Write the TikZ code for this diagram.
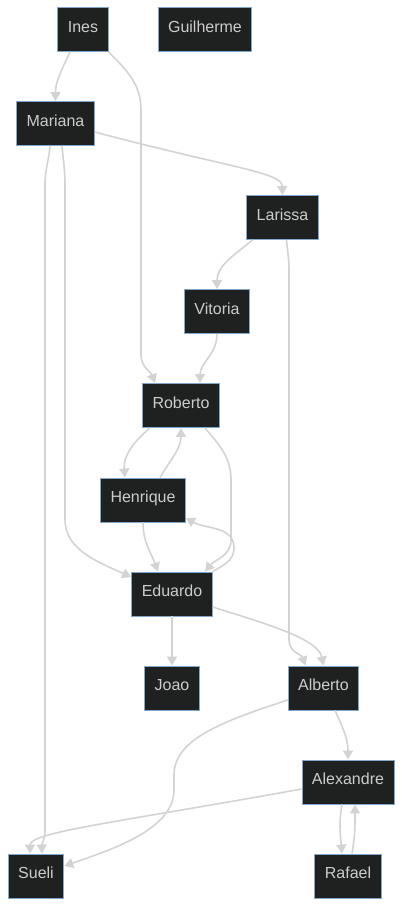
\documentclass[tikz,border=0pt]{standalone}
\usepackage{fontspec}
\setmainfont{Liberation Sans}
\usetikzlibrary{arrows.meta}
\definecolor{boxfill}{HTML}{1F2121}
\definecolor{boxline}{HTML}{81A7CC}
\definecolor{boxtext}{HTML}{CCCCCC}
\definecolor{linkgray}{HTML}{D3D3D3}
\begin{document}
\begin{tikzpicture}[x=1pt, y=1pt,
        person/.style={draw=boxline, line width=0.9pt, fill=boxfill, text=boxtext, inner xsep=10pt, minimum height=44pt, text height=11.5pt, text depth=5.9pt, font=\fontsize{16}{19}\selectfont},
        link/.style={draw=linkgray, line width=1.6pt, -{Triangle[length=9pt, width=10pt]}}]
        \useasboundingbox (0,0) rectangle (402,-906);
        \node (ines) at (83,-29.5) [person] {Ines};
        \node (guilherme) at (205,-29.5) [person] {Guilherme};
        \node (mariana) at (55.5,-123.5) [person] {Mariana};
        \node (larissa) at (282.5,-217.5) [person] {Larissa};
        \node (vitoria) at (217,-311.5) [person] {Vitoria};
        \node (roberto) at (181,-405.5) [person] {Roberto};
        \node (henrique) at (143,-500) [person] {Henrique};
        \node (eduardo) at (172,-594) [person] {Eduardo};
        \node (joao) at (172,-688) [person] {Joao};
        \node (alberto) at (323.5,-688) [person] {Alberto};
        \node (alexandre) at (348,-782) [person] {Alexandre};
        \node (sueli) at (36,-876) [person] {Sueli};
        \node (rafael) at (348,-876) [person] {Rafael};

        \draw [link] ([xshift=-13pt]ines.south) to[out=-115, in=90] (mariana.north);
        \draw [link] (ines.south east) to[out=-45, in=90] (141,-110) -- (141,-355) to[out=-90, in=110] ([xshift=-26pt]roberto.north);
        \draw [link] ([yshift=-8.5pt]mariana.east) .. controls (230,-168) and (282,-172) .. (larissa.north);
        \draw [link] ([xshift=-5.5pt]mariana.south) to[out=-95, in=90] (45,-185) -- (45,-830) to[out=-90, in=92] ([xshift=6pt]sueli.north);
        \draw [link] ([xshift=6.5pt]mariana.south) to[out=-85, in=90] (65,-185) -- (65,-520) .. controls (65,-550) and (100,-563) .. ([yshift=17pt]eduardo.west);
        \draw [link] ([xshift=-30pt]larissa.south) to[out=-140, in=90] (vitoria.north);
        \draw [link] ([xshift=4pt]larissa.south) to[out=-85, in=90] (289,-270) -- (289,-640) to[out=-90, in=110] ([xshift=-18pt]alberto.north);
        \draw [link] (vitoria.south) to[out=-90, in=90] ([xshift=19pt]roberto.north);
        \draw [link] ([xshift=-31pt]roberto.south) to[out=-140, in=95] ([xshift=-18pt]henrique.north);
        \draw [link] ([xshift=17pt]henrique.north) to[out=60, in=-90] (roberto.south);
        \draw [link] ([xshift=24pt]roberto.south) to[out=-50, in=90] (231,-480) -- (231,-540) to[out=-90, in=50] ([xshift=33pt]eduardo.north);
        \draw [link] (henrique.south) to[out=-90, in=110] ([xshift=-14pt]eduardo.north);
        \draw [link] (eduardo.north east) to[out=30, in=-90] (234,-548) to[out=90, in=-30] ([yshift=-18pt]henrique.east);
        \draw [link] (eduardo.south) -- (joao.north);
        \draw [link] ([yshift=-13pt]eduardo.east) .. controls (260,-622) and (318,-638) .. (alberto.north);
        \draw [link] ([yshift=-12pt]alberto.west) .. controls (220,-722) and (174,-740) .. (174,-775) -- (174,-790) .. controls (174,-830) and (110,-850) .. ([yshift=10pt]sueli.east);
        \draw [link] ([xshift=11.5pt]alberto.south) to[out=-65, in=90] (alexandre.north);
        \draw [link] ([yshift=-7pt]alexandre.west) .. controls (120,-822) and (30,-832) .. ([xshift=-6pt]sueli.north);
        \draw [link] ([xshift=-6pt]alexandre.south) to[out=-100, in=95] ([xshift=-6pt]rafael.north);
        \draw [link] ([xshift=4pt]rafael.north) to[out=80, in=-90] ([xshift=7pt]alexandre.south);
\end{tikzpicture}
\end{document}
